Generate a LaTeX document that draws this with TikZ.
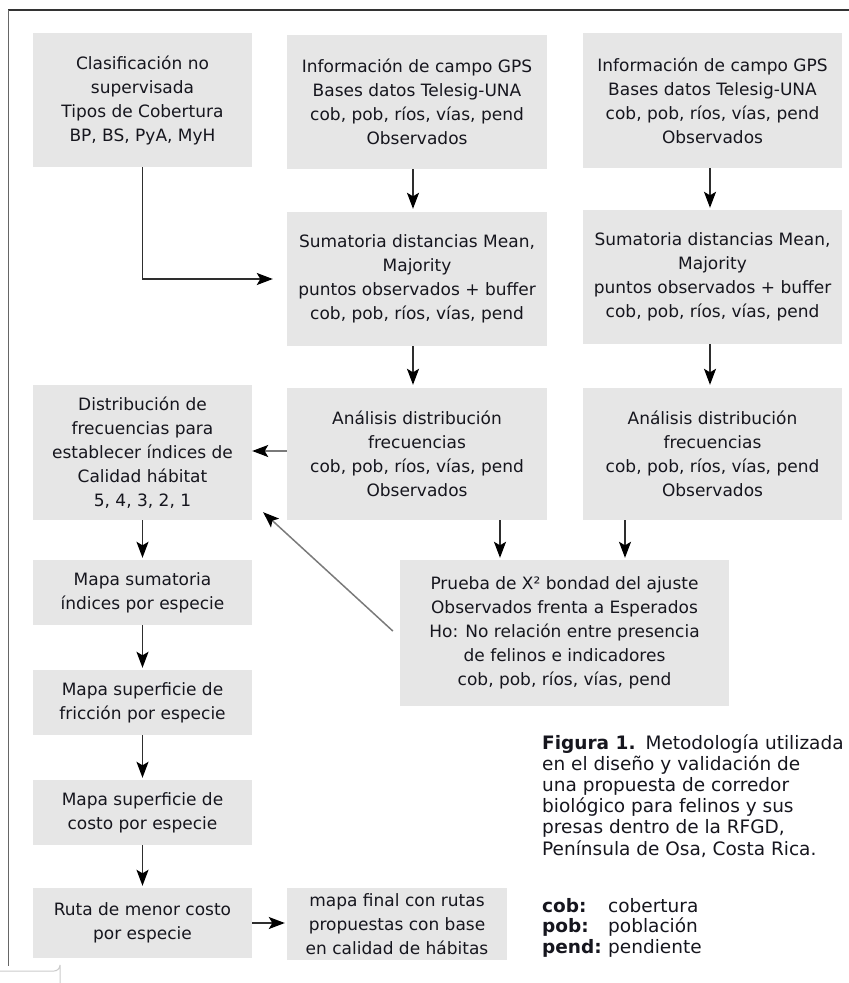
\documentclass[tikz,border=0pt]{standalone}
\usepackage{fontspec}
\setmainfont{DejaVu Sans}
\usetikzlibrary{arrows.meta}

\definecolor{boxfill}{HTML}{E6E6E6}
\definecolor{inktext}{HTML}{16161E}
\definecolor{shaft}{HTML}{2E2E2E}
\definecolor{softshaft}{HTML}{7A7A7A}

\tikzset{
  box/.style={fill=boxfill, draw=none, inner sep=0pt, align=center,
    text=inktext, font=\fontsize{17}{24}\selectfont},
  wide/.style={box, minimum width=260pt},
  narrow/.style={box, minimum width=219pt},
  flow/.style={draw=shaft, line width=1.5pt,
    -{Stealth[length=16pt,width=12pt,inset=3.5pt,color=black]}},
  softflow/.style={flow, draw=softshaft}
}

\begin{document}
\begin{tikzpicture}[x=1pt,y=-1pt]
  \fill[white] (0,0) rectangle (849,983);
  \useasboundingbox (0,0) rectangle (849,983);

  % page frame
  \draw[draw=black!80, line width=2pt] (8,9.5) -- (849,9.5);
  \draw[draw=black!60, line width=1.3pt] (8.5,9.5) -- (8.5,966);
  \draw[draw=black!20, line width=1pt] (0,971) -- (54,971) arc[start angle=90, end angle=0, radius=6] -- (60,983);

  % top row
  \node[narrow, minimum height=134pt] (clas) at (142.5,100)
    {Clasificación no\\supervisada\\Tipos de Cobertura\\BP, BS, PyA, MyH};
  \node[wide, minimum height=134pt] (info1) at (417,102)
    {Información de campo GPS\\Bases datos Telesig-UNA\\cob, pob, ríos, vías, pend\\Observados};
  \node[box, minimum width=259pt, minimum height=135pt] (info2) at (712.5,100.5)
    {Información de campo GPS\\Bases datos Telesig-UNA\\cob, pob, ríos, vías, pend\\Observados};

  % second row
  \node[wide, minimum height=134pt] (sum1) at (417,279)
    {Sumatoria distancias Mean,\\Majority\\puntos observados + buffer\\cob, pob, ríos, vías, pend};
  \node[box, minimum width=259pt, minimum height=134pt] (sum2) at (712.5,277)
    {Sumatoria distancias Mean,\\Majority\\puntos observados + buffer\\cob, pob, ríos, vías, pend};

  % third row
  \node[narrow, minimum height=135pt] (dist) at (142.5,452.5)
    {Distribución de\\frecuencias para\\establecer índices de\\Calidad hábitat\\5, 4, 3, 2, 1};
  \node[wide, minimum height=132pt] (anal1) at (417,454)
    {Análisis distribución\\frecuencias\\cob, pob, ríos, vías, pend\\Observados};
  \node[box, minimum width=259pt, minimum height=132pt] (anal2) at (712.5,454)
    {Análisis distribución\\frecuencias\\cob, pob, ríos, vías, pend\\Observados};

  % chi-square test
  \node[box, minimum width=329pt, minimum height=146pt] (prueba) at (564.5,633)
    {Prueba de X² bondad del ajuste\\Observados frenta a Esperados\\Ho: No relación entre presencia\\de felinos e indicadores\\cob, pob, ríos, vías, pend};

  % left column
  \node[narrow, minimum height=65pt] (msum) at (142.5,592.5)
    {Mapa sumatoria\\índices por especie};
  \node[narrow, minimum height=65pt] (fric) at (142.5,702.5)
    {Mapa superficie de\\fricción por especie};
  \node[narrow, minimum height=65pt] (costo) at (142.5,812.5)
    {Mapa superficie de\\costo por especie};
  \node[narrow, minimum height=70pt] (ruta) at (142.5,923)
    {Ruta de menor costo\\por especie};
  \node[box, minimum width=220pt, minimum height=72pt] (final) at (397,924)
    {mapa final con rutas\\propuestas con base\\en calidad de hábitas};

  % connectors
  \draw[flow, shorten >=14pt] (clas.south) |- (sum1.west);
  \draw[flow, shorten >=3pt] ([xshift=-4pt]info1.south) -- ([xshift=-4pt]sum1.north);
  \draw[flow, shorten >=2pt] ([xshift=-2.5pt]info2.south) -- ([xshift=-2.5pt]sum2.north);
  \draw[flow, shorten >=3pt] ([xshift=-4pt]sum1.south) -- ([xshift=-4pt]anal1.north);
  \draw[flow, shorten >=3pt] ([xshift=-2.5pt]sum2.south) -- ([xshift=-2.5pt]anal2.north);
  \draw[softflow] (anal1.west |- 0,451) -- (dist.east |- 0,451);
  \draw[flow, shorten >=2pt] (anal1.south -| 500,0) -- (prueba.north -| 500,0);
  \draw[flow, shorten >=2pt] (anal2.south -| 625,0) -- (prueba.north -| 625,0);
  \coordinate (diagstart) at ([xshift=-7pt, yshift=2pt]prueba.west);
  \draw[softflow] (diagstart) -- ([xshift=11pt, yshift=8pt]dist.south east);
  \draw[flow, shorten >=2pt] (dist) -- (msum);
  \draw[flow, shorten >=2pt] (msum) -- (fric);
  \draw[flow, shorten >=2pt] (fric) -- (costo);
  \draw[flow, shorten >=2pt] (costo) -- (ruta);
  \draw[flow, shorten >=2pt] (ruta) -- (ruta -| final.west);

  % caption and legend
  \node[anchor=north west, inner sep=0pt, align=left, text=inktext,
        font=\fontsize{18.5}{21.2}\selectfont] (caption) at (542,734)
    {\textbf{Figura 1.}\hspace{10pt}Metodología utilizada\\
     en el diseño y validación de\\
     una propuesta de corredor\\
     biológico para felinos y sus\\
     presas dentro de la RFGD,\\
     Península de Osa, Costa Rica.};
  \node[anchor=north west, inner sep=0pt, align=left, text=inktext,
        font=\fontsize{18.5}{20.5}\selectfont] (legend) at (542,898)
    {\makebox[66pt][l]{\textbf{cob:}}cobertura\\
     \makebox[66pt][l]{\textbf{pob:}}población\\
     \makebox[66pt][l]{\textbf{pend:}}pendiente};
\end{tikzpicture}
\end{document}
